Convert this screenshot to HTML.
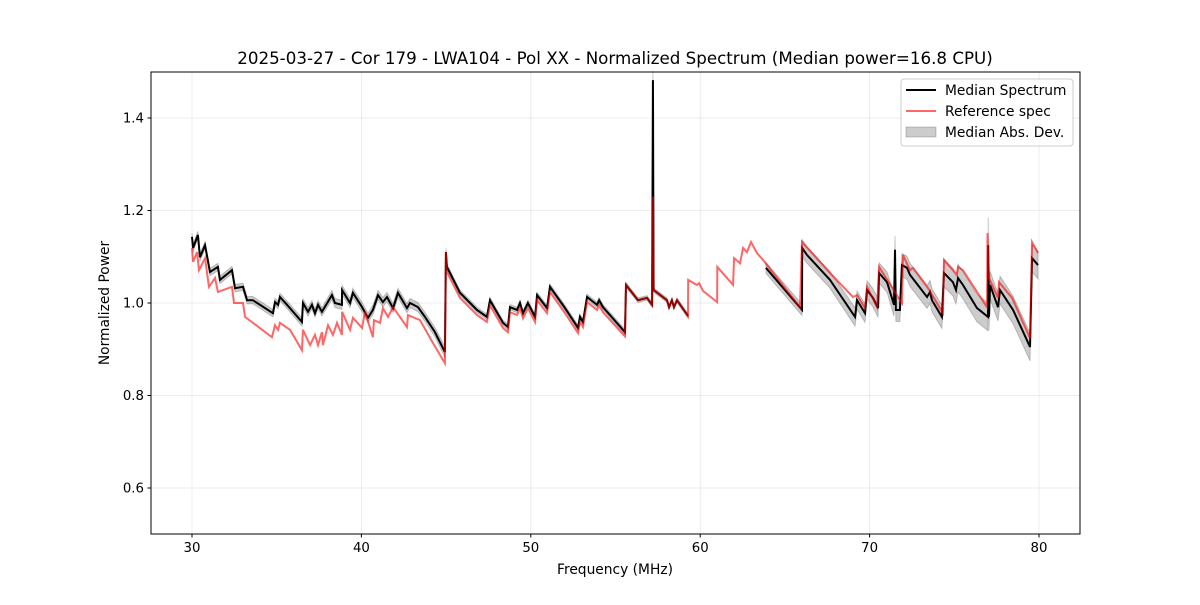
<!DOCTYPE html>
<html><head><meta charset="utf-8"><style>
body{margin:0;background:#fff;font-family:"Liberation Sans","DejaVu Sans",sans-serif}
svg text{font-family:"DejaVu Sans","Liberation Sans",sans-serif}
</style></head><body>
<svg id="chart" width="1200" height="600" xmlns="http://www.w3.org/2000/svg">
<rect width="1200" height="600" fill="#fff"/>
<g id="grid"></g>
<g id="plot"></g>
<rect x="151" y="72" width="929" height="462" fill="none" stroke="#000" stroke-width="1"/>
<g id="ticks"></g>
<text x="615" y="64" font-size="16.7" text-anchor="middle">2025-03-27 - Cor 179 - LWA104 - Pol XX - Normalized Spectrum (Median power=16.8 CPU)</text>
<text x="615" y="574" font-size="13.8" text-anchor="middle">Frequency (MHz)</text>
<text x="109" y="303" font-size="13.8" text-anchor="middle" transform="rotate(-90 109 303)">Normalized Power</text>
<g>
<rect x="901" y="79" width="172" height="67" rx="3" fill="#fff" fill-opacity="0.8" stroke="#ccc"/>
<g><line x1="906" y1="90" x2="936" y2="90" stroke="#000" stroke-width="2"/><text x="945" y="95" font-size="13.8">Median Spectrum</text></g>
<g><line x1="906" y1="111" x2="936" y2="111" stroke="#ff0000" stroke-opacity="0.6" stroke-width="2"/><text x="945" y="116" font-size="13.8">Reference spec</text></g>
<g><rect x="906" y="127" width="30" height="10" fill="#000" fill-opacity="0.2" stroke="#000" stroke-opacity="0.2"/><text x="945" y="137" font-size="13.8">Median Abs. Dev.</text></g>
</g>
</svg>
<script>
const xTicks=[30,40,50,60,70,80];
const yTicks=[0.6,0.8,1.0,1.2,1.4];
const yTickLabels=["0.6","0.8","1.0","1.2","1.4"];
const medFreq=[30.00,30.06,30.35,30.47,30.77,31.06,31.53,31.65,32.36,32.54,33.01,33.25,33.60,34.78,34.90,35.08,35.19,35.61,36.49,36.55,36.85,37.08,37.26,37.44,37.67,38.26,38.44,38.85,38.86,39.33,39.50,40.04,40.39,40.68,40.98,41.27,41.51,41.87,42.16,42.69,42.87,43.34,43.75,44.34,44.93,44.99,
45.05,45.82,46.82,47.41,47.59,48.36,48.65,48.77,49.19,49.36,49.54,49.83,50.25,50.37,50.96,51.13,52.02,52.79,52.90,53.08,53.32,53.91,54.03,54.26,55.56,55.62,56.33,56.86,57.16,57.21,57.25,58.04,58.16,58.33,58.45,58.63,59.28,
61.5,
63.88,66.01,66.02,66.30,67.66,69.14,69.26,69.73,69.85,70.20,70.50,70.56,71.03,71.44,71.50,71.55,71.79,71.91,72.21,72.38,73.39,73.57,73.68,74.27,74.39,74.92,75.10,75.22,75.51,76.34,76.99,77.00,77.05,77.11,77.58,77.70,78.47,79.47,79.59,79.94];
const medVal=[1.143,1.119,1.147,1.099,1.125,1.067,1.078,1.050,1.071,1.032,1.035,1.006,1.006,0.978,1.002,0.996,1.013,0.996,0.959,1.000,0.981,0.996,0.978,0.996,0.981,1.017,1.000,0.996,1.028,1.000,1.022,0.991,0.968,0.985,1.017,1.002,1.013,0.989,1.022,0.989,1.000,0.991,0.970,0.937,0.894,1.110,
1.078,1.022,0.985,0.970,1.006,0.957,0.948,0.991,0.985,1.000,0.978,1.000,0.970,1.017,0.989,1.035,0.989,0.946,0.970,0.959,1.013,0.996,1.006,0.991,0.937,1.039,1.006,1.011,0.996,1.482,1.028,1.006,0.991,1.006,0.991,1.006,0.972,
null,
1.076,0.985,1.119,1.104,1.050,0.970,1.006,0.978,1.028,1.011,0.989,1.065,1.045,0.996,1.115,0.985,0.985,1.082,1.076,1.061,1.013,1.024,1.006,0.970,1.065,1.045,1.028,1.054,1.039,0.989,0.970,1.125,0.970,1.039,0.991,1.028,0.985,0.905,1.097,1.082];
const madVal=[0.008,0.008,0.008,0.008,0.008,0.008,0.008,0.008,0.008,0.008,0.008,0.008,0.008,0.008,0.008,0.008,0.008,0.008,0.009,0.009,0.009,0.009,0.009,0.009,0.009,0.01,0.01,0.01,0.01,0.01,0.01,0.01,0.01,0.01,0.01,0.01,0.01,0.01,0.01,0.01,0.01,0.01,0.01,0.01,0.012,0.008,
0.006,0.006,0.006,0.006,0.006,0.006,0.006,0.006,0.006,0.006,0.006,0.006,0.006,0.006,0.006,0.006,0.006,0.006,0.006,0.006,0.006,0.006,0.006,0.006,0.006,0.005,0.005,0.005,0.005,0.02,0.005,0.005,0.005,0.005,0.005,0.005,0.005,
0,
0.012,0.012,0.018,0.018,0.018,0.02,0.02,0.02,0.02,0.02,0.02,0.022,0.022,0.025,0.03,0.025,0.025,0.025,0.025,0.025,0.025,0.025,0.025,0.025,0.03,0.03,0.03,0.03,0.03,0.03,0.03,0.06,0.03,0.03,0.03,0.03,0.03,0.03,0.03,0.03];
const refFreq=[30.00,30.06,30.30,30.41,30.77,31.00,31.36,31.53,32.36,32.48,33.01,33.13,34.72,34.90,35.08,35.19,35.79,36.49,36.55,36.97,37.26,37.44,37.67,37.73,38.03,38.32,38.56,38.85,38.86,39.33,39.50,40.04,40.21,40.68,40.74,41.10,41.27,41.57,41.87,42.69,42.75,43.46,44.23,44.93,44.99,
45.05,45.82,46.82,47.41,47.59,48.36,48.65,48.77,49.19,49.36,49.54,49.83,50.25,50.37,50.96,51.13,52.02,52.79,52.90,53.08,53.32,53.91,54.03,54.26,55.56,55.62,56.33,56.86,57.16,57.21,57.25,58.04,58.16,58.33,58.45,58.63,59.28,
59.29,59.81,59.93,60.17,61.00,61.01,61.94,62.00,62.35,62.53,62.76,63.00,63.35,63.71,65.89,66.01,67.66,69.02,69.26,69.73,69.85,70.44,70.56,71.91,71.97,72.38,72.56,73.45,74.33,74.39,75.16,75.22,75.51,76.93,76.96,77.05,77.58,77.64,78.41,79.47,79.59,79.94];
const refVal=[1.119,1.089,1.110,1.071,1.097,1.035,1.054,1.024,1.035,1.000,1.000,0.970,0.926,0.952,0.942,0.957,0.942,0.898,0.942,0.909,0.931,0.909,0.937,0.909,0.952,0.931,0.957,0.931,0.981,0.942,0.968,0.946,0.981,0.926,0.963,0.957,0.989,0.970,0.991,0.948,0.974,0.963,0.913,0.870,1.110,
1.067,1.011,0.974,0.959,0.995,0.946,0.937,0.980,0.974,0.989,0.967,0.989,0.959,1.006,0.978,1.024,0.978,0.935,0.959,0.948,1.002,0.985,0.995,0.980,0.928,1.039,1.006,1.011,0.996,1.230,1.028,1.006,0.991,1.006,0.991,1.006,0.972,
1.050,1.039,1.043,1.026,1.002,1.078,1.039,1.097,1.086,1.119,1.110,1.132,1.108,1.093,0.991,1.132,1.065,1.013,1.017,0.989,1.035,0.991,1.078,1.000,1.104,1.071,1.076,1.032,0.978,1.093,1.061,1.078,1.071,0.991,1.151,1.054,1.011,1.045,1.011,0.924,1.132,1.108];

const NS="http://www.w3.org/2000/svg";
const X0=151,X1=1080,Y0=72,Y1=534;
function xs(f){return 192+(f-30)*(1039-192)/50;}
function ys(v){return 303-(v-1)*462.5;}
function el(t,a,p){const e=document.createElementNS(NS,t);for(const k in a)e.setAttribute(k,a[k]);p.appendChild(e);return e;}
const grid=document.getElementById('grid'),ticks=document.getElementById('ticks'),plot=document.getElementById('plot');
xTicks.forEach(t=>{const x=xs(t);
 const g=el('line',{x1:x,x2:x,y1:Y0,y2:Y1,stroke:'#b0b0b0','stroke-opacity':0.3,'stroke-width':0.8},grid);
 
 
 el('line',{x1:x,x2:x,y1:Y1,y2:Y1+3.5,stroke:'#000'},ticks);
 const tx=el('text',{x:x,y:Y1+18,'font-size':13.3,'text-anchor':'middle'},ticks);tx.textContent=t;
 
 });
yTicks.forEach((t,i)=>{const y=ys(t);
 const g=el('line',{x1:X0,x2:X1,y1:y,y2:y,stroke:'#b0b0b0','stroke-opacity':0.3,'stroke-width':0.8},grid);
 
 
 el('line',{x1:X0-3.5,x2:X0,y1:y,y2:y,stroke:'#000'},ticks);
 const tx=el('text',{x:X0-7,y:y+4.5,'font-size':13.3,'text-anchor':'end'},ticks);tx.textContent=yTickLabels[i];
 
 });
let segs=[],cur=[];
medFreq.forEach((f,i)=>{if(medVal[i]==null){if(cur.length)segs.push(cur);cur=[];}else cur.push(i);});
if(cur.length)segs.push(cur);
segs.forEach(s=>{
 let up=s.map(i=>xs(medFreq[i])+','+ys(medVal[i]+(madVal[i]||0))),dn=s.slice().reverse().map(i=>xs(medFreq[i])+','+ys(medVal[i]-(madVal[i]||0)));
 const p=el('polygon',{points:up.concat(dn).join(' '),fill:'#000','fill-opacity':0.2,stroke:'#000','stroke-opacity':0.2,'stroke-width':1},plot);
 
 
});
segs.forEach(s=>{
 const p=el('polyline',{points:s.map(i=>xs(medFreq[i])+','+ys(medVal[i])).join(' '),fill:'none',stroke:'#000','stroke-width':2},plot);
 
 
});
const r=el('polyline',{points:refFreq.map((f,i)=>xs(f)+','+ys(refVal[i])).join(' '),fill:'none',stroke:'#ff0000','stroke-opacity':0.6,'stroke-width':2},plot);


</script>
</body></html>
